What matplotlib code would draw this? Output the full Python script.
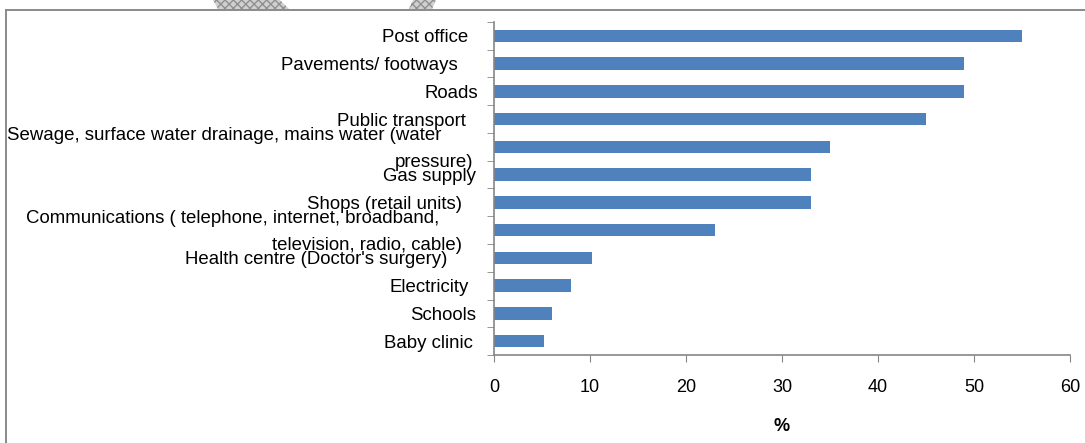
import matplotlib.pyplot as plt
import matplotlib.transforms as mtransforms
from matplotlib.patches import Polygon
from matplotlib.lines import Line2D

plt.rcParams['font.family'] = ['Liberation Sans', 'DejaVu Sans']

categories = [
    'Post office',
    'Pavements/ footways',
    'Roads',
    'Public transport',
    'Sewage, surface water drainage, mains water (water\npressure)',
    'Gas supply',
    'Shops (retail units)',
    'Communications ( telephone, internet, broadband,\ntelevision, radio, cable)',
    "Health centre (Doctor's surgery)",
    'Electricity',
    'Schools',
    'Baby clinic',
]
values = [55, 49, 49, 45, 35, 33, 33, 23, 10.2, 8, 6, 5.2]
xticks = [0, 10, 20, 30, 40, 50, 60]

# gap (pixels) between axis and right end of each label line, mimics the ragged source layout
label_gaps = [[26], [36], [16], [28], [53, 21], [18], [32], [55, 32], [47], [25], [18], [21]]

W, H = 1085, 443
fig = plt.figure(figsize=(W / 100, H / 100), dpi=100)
ax = fig.add_axes([494 / W, (H - 355) / H, 576 / W, 333 / H])

pos = list(range(len(categories)))
ax.barh(pos, values, height=0.45, color='#4F81BD')
ax.set_ylim(len(categories) - 0.5, -0.5)
ax.set_xlim(0, 60)
ax.set_xticks(xticks)
ax.set_xticklabels([str(t) for t in xticks], fontsize=13)
ax.set_yticks(pos)
ax.set_yticklabels([])
ax.set_yticks([p - 0.5 for p in pos] + [len(pos) - 0.5], minor=True)
ax.tick_params(axis='y', which='major', length=0)
ax.tick_params(axis='y', which='minor', length=5, color='#868686', direction='out')
ax.tick_params(axis='x', length=5, color='#868686', pad=12)
ax.set_xlabel('%', fontsize=13, fontweight='bold', labelpad=16)

for s in ['top', 'right']:
    ax.spines[s].set_visible(False)
for s in ['left', 'bottom']:
    ax.spines[s].set_color('#868686')
    ax.spines[s].set_linewidth(1.2)

base = mtransforms.blended_transform_factory(ax.transAxes, ax.transData)
for p, lab, gaps in zip(pos, categories, label_gaps):
    lines = lab.split('\n')
    n = len(lines)
    for j, (line, g) in enumerate(zip(lines, gaps)):
        dy = ((n - 1) / 2 - j) * 27 - 2
        tr = mtransforms.offset_copy(base, fig=fig, x=-g, y=dy, units='dots')
        ax.text(0, p, line, transform=tr, ha='right', va='center', fontsize=13.4)

# outer frame (partial border of the source page)
ident = mtransforms.IdentityTransform()
fig.add_artist(Line2D([6, W], [H - 10, H - 10], transform=ident, color='#8a8a8a', lw=1.4))
fig.add_artist(Line2D([6, 6], [0, H - 10], transform=ident, color='#8a8a8a', lw=1.4))

# hatched fragment of a graphic above the frame
for pts in [[(213, 0), (280, 0), (289, 9), (218, 9)],
            [(413, 0), (436, 0), (432, 9), (409, 9)]]:
    poly = Polygon([(x, H - y) for x, y in pts], closed=True, transform=ident,
                   facecolor='#d0d0d0', edgecolor='#909090', hatch='xxxx', lw=0)
    fig.add_artist(poly)

fig.savefig('out.png', dpi=100)
